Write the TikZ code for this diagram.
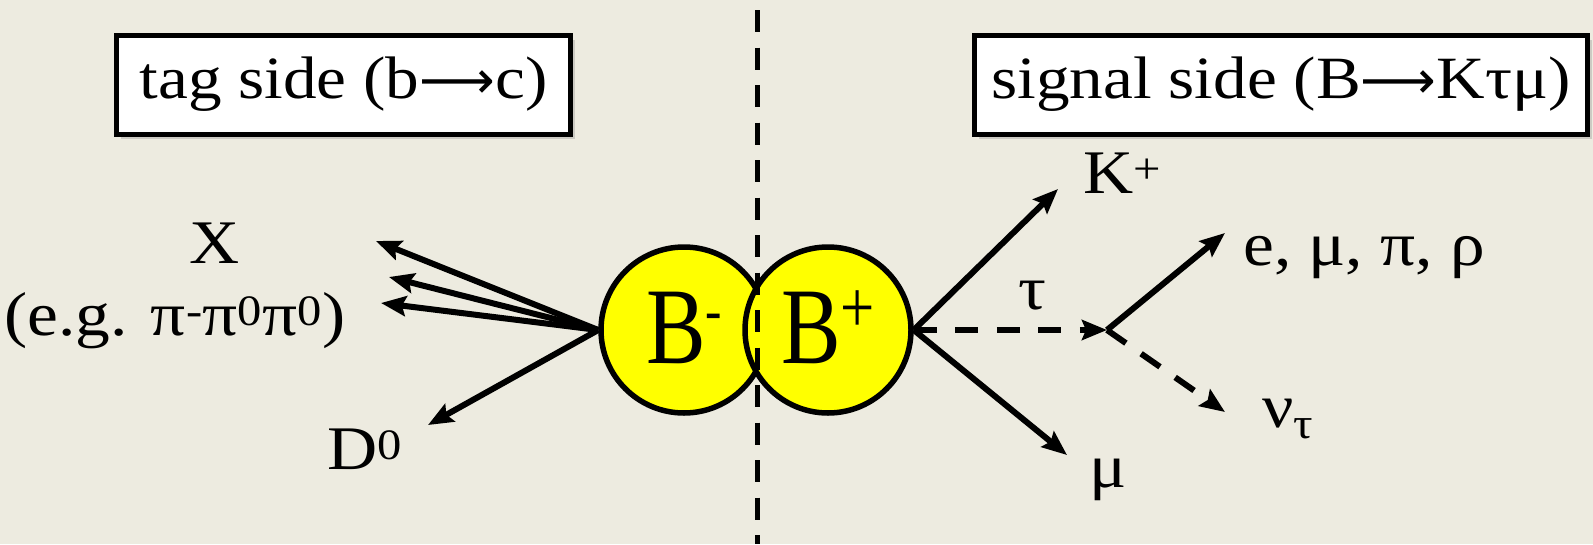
\documentclass[tikz,border=0pt]{standalone}
\usepackage{fontspec}
\setmainfont[FakeStretch=1.12]{Liberation Serif}
\newfontfamily\ballfont[FakeStretch=0.82]{Liberation Serif}
\newfontfamily\arrowfont[Scale=0.88]{DejaVu Sans}
\newcommand{\decayarrow}{{\arrowfont\char"27F6}}
\usetikzlibrary{arrows.meta,shadows}
\definecolor{paper}{RGB}{237,235,224}
\definecolor{ballyellow}{RGB}{255,255,0}

\begin{document}
\begin{tikzpicture}[x=1pt,y=-1pt,
  sidebox/.style={draw=black, fill=white, line width=5pt, inner sep=0pt,
    font=\fontsize{60}{70}\selectfont,
    drop shadow={shadow xshift=4pt, shadow yshift=-5pt, opacity=0.3}},
  ball/.style={circle, draw=black, fill=ballyellow, line width=5.5pt,
    minimum size=166pt, inner sep=0pt, text height=72pt, text depth=6pt,
    font=\ballfont\fontsize{109}{110}\selectfont},
  track/.style={line width=6pt, -{Stealth[length=25pt,width=20pt,inset=4pt]}},
  dtrack/.style={track, dash pattern=on 23pt off 18.5pt},
  particle/.style={inner sep=0pt, font=\fontsize{62}{70}\selectfont},
]
% background and frame
\fill[paper] (0,0) rectangle (1593,544);
\useasboundingbox (0,0) rectangle (1593,544);

% side captions
\node[sidebox, minimum width=454pt, minimum height=99pt] (tag) at (343.5,84.5)
  {tag side (b\decayarrow c)};
\node[sidebox, minimum width=613pt, minimum height=99pt] (signal) at (1281,84.5)
  {signal side (B\decayarrow Kτμ)};

% the B meson pair
\node[ball] (bm) at (684,330)
  {B\raisebox{33pt}{\fontsize{60}{60}\selectfont -}};
\node[ball] (bp) at (828,330)
  {B\raisebox{31pt}{\fontsize{74}{74}\selectfont +}};

% separation between tag and signal side
\coordinate (dtop) at (757,10);
\coordinate (dbot) at (757,544);
\draw[line width=5pt, dash pattern=on 22pt off 15.5pt] (dtop) -- (dbot);

% tag side decay products
\coordinate (x1) at (376,241);
\coordinate (x2) at (389,277);
\coordinate (x3) at (381,303);
\coordinate (d0) at (428,425);
\draw[track] (bm.west) -- (x1);
\draw[track] (bm.west) -- (x2);
\draw[track] (bm.west) -- (x3);
\draw[track] (bm.west) -- (d0);

% signal side decay products
\coordinate (kend) at (1058,189);
\coordinate (muend) at (1067,455);
\coordinate (tauend) at (1107,330);
\coordinate (lepend) at (1225,233);
\coordinate (nuend) at (1225,412);
\draw[track] (bp.east) -- (kend);
\draw[track] (bp.east) -- (muend);
\draw[dtrack] (bp.east) -- (tauend);
\draw[track] (tauend) -- (lepend);
\draw[dtrack] (tauend) -- (nuend);

% particle labels
\node[particle, anchor=base] (X) at (215,263) {X};
\node[particle, anchor=base] (xeg) at (175,335)
  {(e.g. π\textsuperscript{-}π\textsuperscript{0}π\textsuperscript{0})};
\node[particle, anchor=base west] (D) at (327,469) {D\textsuperscript{0}};
\node[particle, anchor=base west] (K) at (1083,193) {K\textsuperscript{+}};
\node[particle] (tau) at (1032,296) {τ};
\node[particle, anchor=base west] (lep) at (1243,265) {e, μ, π, ρ};
\node[particle, anchor=base west] (nu) at (1262,427) {ν\textsubscript{τ}};
\node[particle, anchor=base] (mu) at (1108,487) {μ};
\end{tikzpicture}
\end{document}
